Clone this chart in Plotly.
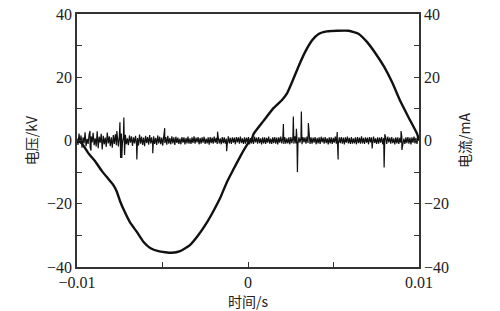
import numpy as np
import plotly.graph_objects as go

# Voltage waveform (kV)
volt_t = [-0.01000, -0.00972, -0.00934, -0.00895, -0.00855, -0.00817, -0.00787, -0.00767,
          -0.00748, -0.00719, -0.00690, -0.00650, -0.00612, -0.00572, -0.00524, -0.00445,
          -0.00397, -0.00338, -0.00290, -0.00240, -0.00202, -0.00163, -0.00123, -0.00085,
          -0.00045, -0.00006, 0.00023, 0.00033, 0.00091, 0.00150, 0.00199, 0.00228,
          0.00257, 0.00296, 0.00335, 0.00375, 0.00413, 0.00462, 0.00521, 0.00589,
          0.00648, 0.00697, 0.00745, 0.00794, 0.00843, 0.00892, 0.00940, 0.00989, 0.01000]
volt_v = [0.0, -0.9, -4.0, -6.5, -9.6, -12.1, -14.1, -16.2,
          -19.2, -22.8, -25.9, -28.9, -32.0, -34.0, -35.0, -35.5,
          -35.0, -33.0, -29.9, -25.9, -22.3, -18.2, -13.1, -9.1,
          -5.0, -1.4, 0.6, 2.1, 6.2, 10.3, 12.8, 14.9,
          18.4, 23.5, 28.1, 31.7, 33.7, 34.5, 34.7, 34.7,
          33.7, 31.1, 27.6, 23.5, 18.4, 12.3, 7.2, 2.1, 0.0]

# Current baseline noise (mA), sampled uniformly over the window
noise_v = [
    0.6, -1.4, 2.2, -0.8, 1.6, -2.3, 1.0, -0.9, 2.6, -1.8, 0.5, -1.1, 1.9, -2.1, 1.3, -0.6, 2.4, -1.5, 0.7, -1.9,
    2.9, -2.4, 1.2, -0.7, 2.1, -2.8, 1.5, -1.2, 0.9, -2.0, 2.5, -0.9, 1.3, -1.8, 1.0, -2.3, 1.7, -1.1, 2.0, -1.5,
    0.6, -1.9, 1.4, -1.3, 2.2, -0.8, 1.1, -1.6, 1.8, -1.2, 0.7, -1.5, 1.6, -0.7, 1.3, -1.7, 1.0, -0.9, 1.5, -1.3,
    0.8, -1.6, 1.9, -1.0, 1.2, -1.4, 0.9, -1.8, 1.5, -0.8, 1.1, -1.3, 1.7, -0.9, 1.0, -1.5, 1.3, -1.1, 0.8, -1.4,
    1.6, -0.9, 1.2, -1.2, 0.9, -1.6, 1.4, -0.8, 1.1, -1.3, 1.5, -1.0, 0.8, -1.2, 1.3, -0.9, 1.0, -1.4, 1.2, -0.8,
    0.9, -1.1, 0.6, -1.2, 1.1, -0.7, 1.0, -1.2, 0.8, -0.9, 1.2, -1.0, 0.7, -1.1, 1.0, -0.8, 1.3, -1.0, 0.9, -0.6,
    1.1, -1.2, 0.8, -1.0, 1.0, -0.7, 1.2, -1.1, 0.6, -0.9, 1.0, -1.3, 1.1, -0.8, 0.9, -1.0, 1.2, -0.7, 0.8, -1.1,
    1.0, -0.9, 0.7, -1.2, 1.1, -0.8, 1.0, -1.0, 0.6, -1.0, 1.3, -0.9, 0.8, -1.1, 1.0, -0.7, 0.9, -1.2, 1.1, -0.6,
    1.0, -1.0, 1.2, -0.8, 0.7, -1.1, 1.0, -1.0, 0.9, -0.7, 1.1, -1.2, 0.8, -0.9, 1.0, -1.1, 1.2, -0.6, 0.9, -1.0,
    1.1, -0.8, 0.7, -1.2, 1.0, -0.9, 1.0, -1.1, 0.8, -0.7, 1.2, -1.0, 0.6, -1.1, 1.0, -0.8, 1.1, -1.0, 0.9, -1.2,
    1.0, -0.7, 1.2, -0.9, 0.8, -1.1, 1.1, -1.0, 0.7, -0.9, 1.0, -1.2, 1.1, -0.8, 0.9, -1.0, 1.3, -0.9, 0.8, -1.1,
    1.0, -0.7, 0.9, -1.2, 1.1, -0.6, 1.0, -1.0, 1.2, -0.8, 0.7, -1.1, 1.0, -1.0, 0.9, -0.7, 1.1, -1.2, 0.8, -0.9,
    1.0, -1.1, 1.2, -0.6, 0.9, -1.0, 1.1, -0.8, 0.7, -1.2, 1.0, -0.9, 1.0, -1.1, 0.8, -0.7, 1.2, -1.0, 0.6, -1.1,
    1.0, -0.8, 1.1, -1.0, 0.9, -1.2, 1.0, -0.7, 1.2, -0.9, 0.8, -1.1, 1.1, -1.0, 0.7, -0.9, 1.0, -1.2, 1.1, -0.8,
    0.9, -1.0, 1.3, -0.9, 0.8, -1.1, 1.0, -0.7, 0.9, -1.2, 1.1, -0.6, 1.0, -1.0, 1.2, -0.8, 0.7, -1.1, 1.0, -1.0,
    0.9, -0.7, 1.1, -1.2, 0.8, -0.9, 1.0, -1.1, 1.2, -0.6, 0.9, -1.0, 1.1, -0.8, 0.7, -1.2, 1.0, -0.9, 1.0, -1.1,
    0.8, -0.7, 1.2, -1.0, 0.6, -1.1, 1.0, -0.8, 1.1, -1.0, 0.9, -1.2, 1.0, -0.7, 1.2, -0.9, 0.8, -1.1, 1.1, 0.0,
]
noise_t = list(np.linspace(-0.01, 0.01, len(noise_v)))

# Current spikes (mA)
spike_t = [-0.00924, -0.00918, -0.00767, -0.00749, -0.00745, -0.00738, -0.00726, -0.00722,
           -0.00650, -0.00557, -0.00487, -0.00178, -0.00125, 0.00207, 0.00265, 0.00283,
           0.00289, 0.00312, 0.00353, 0.00522, 0.00527, 0.00726, 0.00796, 0.00800, 0.00895,
           0.00900]
spike_v = [3.0, -3.2, 3.0, 5.8, -5.5, -5.5, 7.3, -4.6,
           -6.0, -4.0, 3.9, 2.8, -3.4, 5.2, 7.6, 3.7,
           -10.0, 9.2, 5.5, 2.7, -6.0, -2.5, -8.5, 2.0, 3.0,
           -3.0]

cur_pairs = sorted(zip(noise_t + spike_t, noise_v + spike_v))
cur_t = [p[0] for p in cur_pairs]
cur_v = [p[1] for p in cur_pairs]

fig = go.Figure()
fig.add_trace(go.Scatter(x=cur_t, y=cur_v, mode="lines", yaxis="y2",
                         line=dict(color="#111111", width=1.2), showlegend=False))
fig.add_trace(go.Scatter(x=volt_t, y=volt_v, mode="lines", line_shape="spline",
                         line=dict(color="#111111", width=2.4, smoothing=0.5), showlegend=False))

serif = "Times New Roman"
tickfont = dict(family=serif, size=16, color="#222")
titlefont = dict(family="Noto Sans CJK SC", size=14, color="#222")

fig.update_layout(
    width=500, height=311,
    margin=dict(l=77, r=81, t=6, b=43),
    plot_bgcolor="white", paper_bgcolor="white",
    xaxis=dict(range=[-0.01, 0.01], dtick=0.01, tick0=-0.01, ticks="inside", ticklen=5,
               tickcolor="#333", showgrid=False, zeroline=False, showline=True,
               linecolor="#333", linewidth=1.5, mirror=True, tickfont=tickfont,
               ticklabeloverflow="allow",
               minor=dict(dtick=0.005, ticks="inside", ticklen=5, tickcolor="#333"),
               title=dict(text="时间/s", font=titlefont, standoff=4)),
    yaxis=dict(range=[-40, 40], dtick=20, ticks="inside", ticklen=5, tickcolor="#333",
               showgrid=False, zeroline=False, showline=True, linecolor="#333",
               linewidth=1.5, tickfont=tickfont, ticklabeloverflow="allow",
               minor=dict(dtick=10, ticks="inside", ticklen=5, tickcolor="#333"),
               title=dict(text="电压/kV", font=titlefont, standoff=6)),
    yaxis2=dict(range=[-40, 40], dtick=20, overlaying="y", side="right", ticks="inside",
                ticklen=5, tickcolor="#333", showgrid=False, zeroline=False,
                showline=True, linecolor="#333", linewidth=1.5, tickfont=tickfont,
                ticklabeloverflow="allow",
                minor=dict(dtick=10, ticks="inside", ticklen=5, tickcolor="#333"),
                title=dict(text="电流/mA", font=titlefont, standoff=12)),
)

fig.write_html("out.html")
